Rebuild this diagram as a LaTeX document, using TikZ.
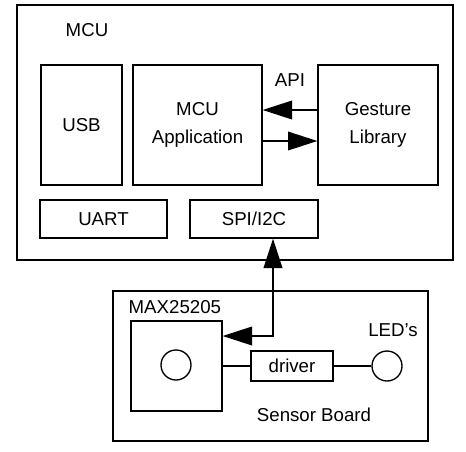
\documentclass[tikz,border=0pt]{standalone}
\usepackage{fontspec}
\setmainfont{Liberation Sans}
\usetikzlibrary{arrows.meta}
\begin{document}
\begin{tikzpicture}[x=0.75pt,y=-0.75pt,line width=1pt,
        >={Triangle[length=22pt,width=14pt]},
        every node/.style={font=\fontsize{14pt}{21pt}\selectfont},
        box/.style={draw,inner sep=0pt,align=center},
        dot/.style={draw,circle,inner sep=0pt,minimum size=22.5pt}]
        \useasboundingbox (0,0) rectangle (466,451);
        \path (235,132.5) node [box,minimum width=327pt,minimum height=191.25pt](mcu){};
        \path (87,30) node(mculabel){MCU};
        \path (81.5,125) node [box,minimum width=60.75pt,minimum height=90pt](usb){USB};
        \path (197.5,125) node [box,minimum width=96.75pt,minimum height=90pt](app){MCU\\Application};
        \path (378,125) node [box,minimum width=90pt,minimum height=90pt](gesture){Gesture\\Library};
        \path (290,80) node(api){API};
        \path (103.5,219) node [box,minimum width=95.25pt,minimum height=28.5pt](uart){UART};
        \path (254,219) node [box,minimum width=96pt,minimum height=28.5pt](spi){SPI/I2C};
        \path (270.5,366) node [box,minimum width=236.25pt,minimum height=112.5pt](board){};
        \path (128,307) node [anchor=west,inner sep=0pt](maxlabel){MAX25205};
        \path (176.5,366) node [box,minimum width=68.25pt,minimum height=67.5pt](max){};
        \path (176,365) node [dot](pd){};
        \path (292,366) node [box,minimum width=61.5pt,minimum height=22.5pt](driver){driver};
        \path (387,366) node [dot](led){};
        \path (393,330) node(ledlabel){LED's};
        \path (314,415) node(boardlabel){Sensor Board};
        \coordinate (bend) at (273,336);
        \draw[->] (gesture.west |- 0,110) -- (app.east |- 0,110);
        \draw[->] (app.east |- 0,141) -- (gesture.west |- 0,141);
        \draw[<->] (max.east |- bend) -- (bend) -- (spi.south -| bend);
        \draw (max.east |- driver) -- (driver.west);
        \draw (driver.east) -- (led.west);


    \end{tikzpicture}
\end{document}
